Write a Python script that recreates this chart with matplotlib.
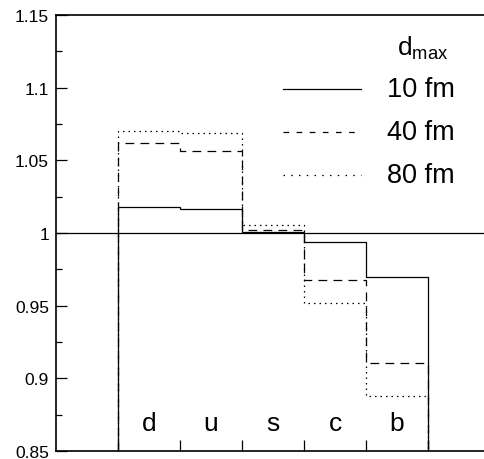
import numpy as np
import matplotlib
matplotlib.use("Agg")
import matplotlib.pyplot as plt
from matplotlib.lines import Line2D
from matplotlib.ticker import MultipleLocator, NullFormatter

plt.rcParams['font.family'] = ['Liberation Sans', 'DejaVu Sans']
plt.rcParams['mathtext.fontset'] = 'custom'
plt.rcParams['mathtext.rm'] = 'Liberation Sans'

# quark flavours, one bin each
flavours = ['d', 'u', 's', 'c', 'b']
bin_edges = [1, 2, 3, 4, 5, 6]

# ratio per flavour for each maximal distance
ratio_10fm = [1.0181, 1.0163, 1.0008, 0.9936, 0.9695]
ratio_40fm = [1.0617, 1.0562, 1.0018, 0.9680, 0.9103]
ratio_80fm = [1.0704, 1.0688, 1.0057, 0.9516, 0.8876]

series = [
    ('10 fm', ratio_10fm, '-'),
    ('40 fm', ratio_40fm, (0, (7, 5))),
    ('80 fm', ratio_80fm, (0, (1.2, 3.2))),
]

fig = plt.figure(figsize=(4.84, 4.60), dpi=100)
ax = fig.add_axes([56 / 484, 8 / 460, 434 / 484, 436 / 460])

ymin, ymax = 0.85, 1.15
for label, vals, ls in series:
    ax.stairs(vals, bin_edges, baseline=ymin, color='black', lw=0.9, linestyle=ls)

ax.axhline(1.0, color='black', lw=0.9)

for i, name in enumerate(flavours):
    xc = 0.5 * (bin_edges[i] + bin_edges[i + 1])
    ax.text(xc, 0.8692, name, ha='center', va='center', fontsize=19)

ax.set_xlim(0, 7)
ax.set_ylim(ymin, ymax)

ax.set_xticks(bin_edges)
ax.xaxis.set_major_formatter(NullFormatter())
ax.yaxis.set_minor_locator(MultipleLocator(0.025))
ax.set_yticks([0.85, 0.9, 0.95, 1.0, 1.05, 1.1, 1.15])
ax.set_yticklabels(['0.85', '0.9', '0.95', '1', '1.05', '1.1', '1.15'])
ax.tick_params(axis='both', which='major', direction='in', length=8, width=0.9,
               labelsize=12.5, pad=5)
ax.tick_params(axis='y', which='minor', direction='in', length=4, width=0.9)
ax.tick_params(top=False, right=False)

for side in ['left', 'top', 'bottom']:
    ax.spines[side].set_linewidth(1.2)
ax.spines['right'].set_visible(False)

# legend drawn by hand in axes fraction
ax_w, ax_h = 434, 436
def fx(px):
    return (px - 56) / ax_w

def fy(py):
    return (452 - py) / ax_h

ax.text(fx(397), fy(48), r'$\mathrm{d}_{\mathrm{max}}$', transform=ax.transAxes,
        ha='left', va='center', fontsize=19)
legend_styles = ['-', (0, (4.5, 6)), (0, (1.2, 5))]
for k, (label, vals, ls) in enumerate(series):
    y = fy(90 + 43 * k)
    ax.add_line(Line2D([fx(283), fx(361)], [y, y], transform=ax.transAxes,
                       color='black', lw=0.9, linestyle=legend_styles[k]))
    ax.text(fx(387), y, label, transform=ax.transAxes, ha='left', va='center',
            fontsize=19.5)

fig.savefig('out.png', dpi=100)
